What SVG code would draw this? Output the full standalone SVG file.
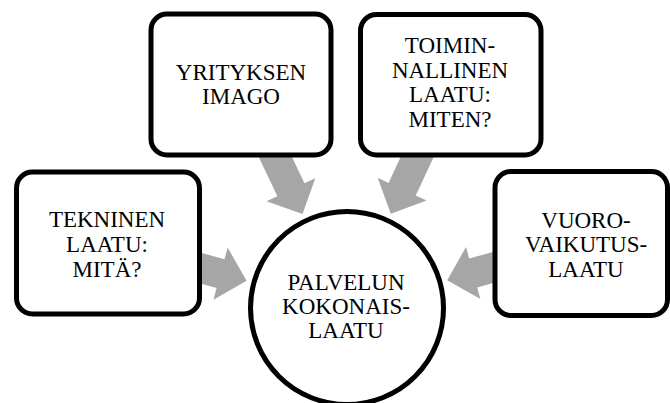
<svg xmlns="http://www.w3.org/2000/svg" width="670" height="403" viewBox="0 0 670 403">
  <defs>
    <style>
      .box { fill: #ffffff; stroke: #000000; stroke-width: 5; }
      .arrow { fill: #a6a6a6; stroke: none; }
      .lbl { font-family: "Liberation Serif", "Times New Roman", serif; font-size: 23px; fill: #000000; text-anchor: middle; }
    </style>
    <!-- block arrow pointing along +x, tip at origin -->
    <polygon id="blockArrow" points="0,0 -27,27 -27,15 -90,15 -90,-15 -27,-15 -27,-27"/>
  </defs>
  <rect width="670" height="403" fill="#ffffff"/>

  <g id="connectors">
    <use href="#blockArrow" class="arrow" transform="translate(246.6,280.7) rotate(15.2)"/>
    <use href="#blockArrow" class="arrow" transform="translate(302.5,214.1) rotate(64.6)"/>
    <use href="#blockArrow" class="arrow" transform="translate(390.8,213.7) rotate(114.9)"/>
    <use href="#blockArrow" class="arrow" transform="translate(447.2,280.2) rotate(164.5)"/>
  </g>

  <g id="tekninen">
    <rect class="box" x="16.5" y="172" width="183" height="142" rx="16"/>
    <text class="lbl" x="107" y="227">TEKNINEN</text>
    <text class="lbl" x="107" y="252">LAATU:</text>
    <text class="lbl" x="107" y="277">MITÄ?</text>
  </g>

  <g id="imago">
    <rect class="box" x="151" y="14" width="180" height="141" rx="16"/>
    <text class="lbl" x="241" y="80">YRITYKSEN</text>
    <text class="lbl" x="241" y="104">IMAGO</text>
  </g>

  <g id="toiminnallinen">
    <rect class="box" x="360.5" y="14.5" width="180.5" height="140.5" rx="16"/>
    <text class="lbl" x="450" y="53">TOIMIN-</text>
    <text class="lbl" x="450" y="78">NALLINEN</text>
    <text class="lbl" x="450" y="102">LAATU:</text>
    <text class="lbl" x="450" y="127">MITEN?</text>
  </g>

  <g id="vuorovaikutus">
    <rect class="box" x="495" y="171.5" width="172.5" height="144" rx="16"/>
    <text class="lbl" x="586" y="228">VUORO-</text>
    <text class="lbl" x="586" y="252">VAIKUTUS-</text>
    <text class="lbl" x="586" y="277">LAATU</text>
  </g>

  <g id="kokonaislaatu">
    <circle class="box" cx="347" cy="308" r="96.5"/>
    <text class="lbl" x="346" y="290">PALVELUN</text>
    <text class="lbl" x="346" y="314">KOKONAIS-</text>
    <text class="lbl" x="346" y="338">LAATU</text>
  </g>
</svg>
